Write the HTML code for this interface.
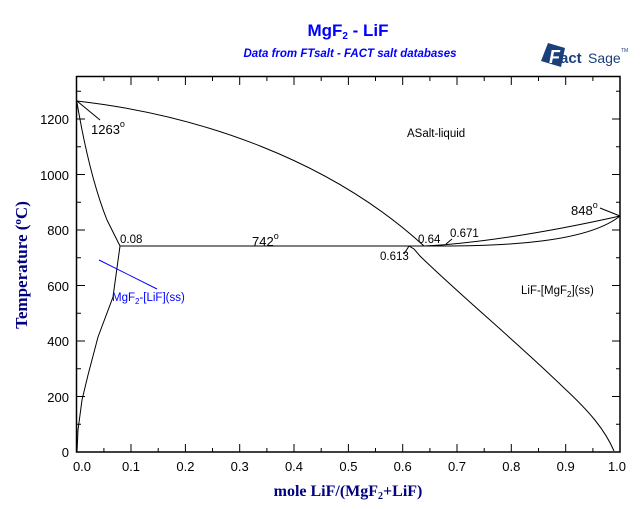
<!DOCTYPE html>
<html><head><meta charset="utf-8"><style>
body{margin:0;background:#fff;}
svg text{font-family:"Liberation Sans",sans-serif;}
</style></head><body>
<svg width="640" height="504" viewBox="0 0 640 504" xmlns="http://www.w3.org/2000/svg">
<rect width="640" height="504" fill="#fff"/>
<text x="348" y="36" text-anchor="middle" font-size="17" font-weight="bold" fill="#0000ff">MgF<tspan font-size="10" dy="3">2</tspan><tspan dy="-3"> - LiF</tspan></text>
<text x="350" y="57" text-anchor="middle" font-size="11.5" font-weight="bold" font-style="italic" fill="#0000ff">Data from FTsalt - FACT salt databases</text>
<!-- logo -->
<g transform="translate(541,43)">
<polygon points="7,0 24,5 20,24 0,18" fill="#1a3f7a"/>
<text x="8" y="20" font-size="18" font-weight="bold" fill="#fff" font-style="italic">F</text>
<text x="19" y="20" font-size="15" font-weight="bold" fill="#1a3f7a">act</text>
<text x="47" y="20" font-size="14" fill="#1a3f7a" font-family="Liberation Sans Narrow,Liberation Sans,sans-serif">Sage</text>
<text x="80" y="9" font-size="5" fill="#1a3f7a">TM</text>
</g>
<!-- frame -->
<rect x="76.5" y="76.5" width="543.5" height="375.5" fill="none" stroke="#000" stroke-width="1.5"/>
<g stroke="#000" stroke-width="1">
<path d="M76.7 452v-8M131 452v-8M185.4 452v-8M239.7 452v-8M294 452v-8M348.4 452v-8M402.7 452v-8M457 452v-8M511.3 452v-8M565.7 452v-8
M103.9 452v-4M158.2 452v-4M212.5 452v-4M266.9 452v-4M321.2 452v-4M375.5 452v-4M429.9 452v-4M484.2 452v-4M538.5 452v-4M592.9 452v-4
M131 77v8M185.4 77v8M239.7 77v8M294 77v8M348.4 77v8M402.7 77v8M457 77v8M511.3 77v8M565.7 77v8
M103.9 77v4M158.2 77v4M212.5 77v4M266.9 77v4M321.2 77v4M375.5 77v4M429.9 77v4M484.2 77v4M538.5 77v4M592.9 77v4"/>
<path d="M77 396.5h8M77 341h8M77 285.5h8M77 230h8M77 174.5h8M77 119h8
M77 424.3h4M77 368.8h4M77 313.3h4M77 257.8h4M77 202.3h4M77 146.8h4M77 91.3h4
M620 396.5h-8M620 341h-8M620 285.5h-8M620 230h-8M620 174.5h-8M620 119h-8
M620 424.3h-4M620 368.8h-4M620 313.3h-4M620 257.8h-4M620 202.3h-4M620 146.8h-4M620 91.3h-4"/>
</g>
<g font-size="13" fill="#000" text-anchor="end">
<text x="69" y="457">0</text><text x="69" y="402">200</text><text x="69" y="346">400</text><text x="69" y="291">600</text><text x="69" y="235">800</text><text x="69" y="180">1000</text><text x="69" y="124">1200</text>
</g>
<g font-size="13" fill="#000" text-anchor="middle">
<text x="82" y="471">0.0</text><text x="131" y="471">0.1</text><text x="185.4" y="471">0.2</text><text x="239.7" y="471">0.3</text><text x="294" y="471">0.4</text><text x="348.4" y="471">0.5</text><text x="402.7" y="471">0.6</text><text x="457" y="471">0.7</text><text x="511.3" y="471">0.8</text><text x="565.7" y="471">0.9</text><text x="617" y="471">1.0</text>
</g>
<text x="348" y="496" text-anchor="middle" font-size="16" font-weight="bold" fill="#000080" style="font-family:'Liberation Serif',serif">mole LiF/(MgF<tspan font-size="10" dy="3">2</tspan><tspan dy="-3">+LiF)</tspan></text>
<text transform="translate(27,265) rotate(-90)" text-anchor="middle" font-size="17" font-weight="bold" fill="#000080" style="font-family:'Liberation Serif',serif">Temperature (<tspan font-size="11" dy="-6">o</tspan><tspan dy="6">C)</tspan></text>
<g fill="none" stroke="#000" stroke-width="1">
<path d="M76.7 101 C200 115 330 160 424 246"/>
<path d="M76.7 101 C85 150 95 190 107 220 L120 246"/>
<path d="M120 246 L113 297 L98 337 L88 375 L82 400 L78 430 L77 452"/>
<path d="M120 246 H441"/>
<path d="M409 246 L414 249 L420 256 C460 295 520 345 563 387 C590 412 605 430 614 451"/>
<path d="M424 246 C470 244 540 234 620 216"/>
<path d="M441 246 C520 246 590 240 620 216"/>
<path d="M77 101 L100 120"/>
<path d="M600 208 L620 216"/>
<path d="M404 254 L409 246"/>
<path d="M446 244 L452 239"/>
</g>
<line x1="99" y1="260" x2="157" y2="289" stroke="#0000ff" stroke-width="1"/>
<g font-size="11.5" fill="#000">
<text x="91" y="134" font-size="13">1263<tspan font-size="9" dy="-7">o</tspan></text>
<text x="252" y="246" font-size="13">742<tspan font-size="9" dy="-7">o</tspan></text>
<text x="571" y="215" font-size="13">848<tspan font-size="9" dy="-7">o</tspan></text>
<text x="120" y="243">0.08</text>
<text x="418" y="243">0.64</text>
<text x="450" y="237">0.671</text>
<text x="380" y="260">0.613</text>
<text x="407" y="137">ASalt-liquid</text>
<text x="521" y="294">LiF-[MgF<tspan font-size="8" dy="3">2</tspan><tspan dy="-3">](ss)</tspan></text>
<text x="112" y="301" fill="#0000ff">MgF<tspan font-size="8" dy="3">2</tspan><tspan dy="-3">-[LiF](ss)</tspan></text>
</g>
</svg>
</body></html>
